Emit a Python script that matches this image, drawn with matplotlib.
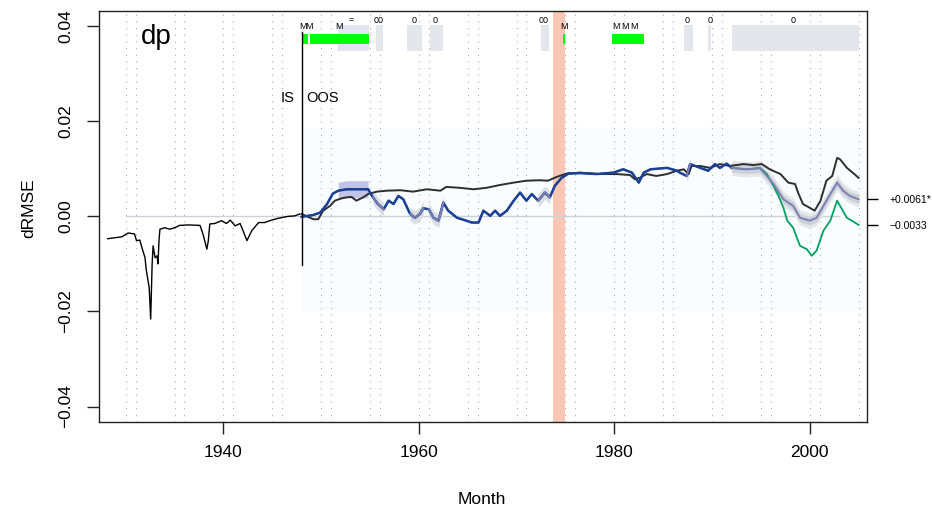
import numpy as np
import matplotlib
matplotlib.use("Agg")
import matplotlib.pyplot as plt

plt.rcParams["font.family"] = ["Liberation Sans", "DejaVu Sans"]

# ── data ──────────────────────────────────────────────────────────────────────
# in-sample dRMSE (black)
is_pts = [(1928.15, -0.0047), (1929.6, -0.0043), (1930.25, -0.0035), (1930.9, -0.0037),
          (1931.1, -0.0051), (1931.45, -0.0050), (1931.6, -0.0062), (1931.97, -0.0087),
          (1932.1, -0.0113), (1932.4, -0.0150), (1932.55, -0.0216), (1932.7, -0.0100),
          (1932.8, -0.0062), (1933.0, -0.0087), (1933.2, -0.0083), (1933.3, -0.0100),
          (1933.4, -0.0051), (1933.5, -0.0027), (1934.0, -0.0024), (1934.5, -0.0027),
          (1935.0, -0.0024), (1935.5, -0.0019), (1936.4, -0.0018), (1937.6, -0.0019),
          (1937.9, -0.0037), (1938.3, -0.0069), (1938.45, -0.0051), (1938.6, -0.0016),
          (1939.1, -0.0015), (1939.8, -0.0009), (1940.3, -0.0015), (1940.7, -0.0008),
          (1941.2, -0.0020), (1941.7, -0.0015), (1942.0, -0.0030), (1942.4, -0.0051),
          (1942.9, -0.0030), (1943.6, -0.0013), (1944.2, -0.0013), (1944.9, -0.0008),
          (1945.6, -0.0004), (1946.6, 0.0000), (1947.3, 0.0001), (1947.8, 0.0005)]

# out-of-sample, unconditional benchmark (black)
oos_black = [(1948.0, 0.0005), (1949.2, -0.0006), (1949.7, -0.0006), (1950.2, 0.0012),
             (1950.9, 0.0022), (1951.4, 0.0033), (1952.1, 0.0038), (1952.6, 0.0040),
             (1953.1, 0.0041), (1953.6, 0.0033), (1954.3, 0.0040), (1954.8, 0.0047),
             (1955.7, 0.0052), (1956.7, 0.0054), (1958.1, 0.0055), (1959.4, 0.0052),
             (1960.8, 0.0057), (1962.2, 0.0054), (1962.8, 0.0062), (1964.2, 0.0060),
             (1965.6, 0.0057), (1966.9, 0.0060), (1968.3, 0.0066), (1969.7, 0.0071),
             (1971.0, 0.0075), (1972.4, 0.0076), (1973.2, 0.0075), (1974.1, 0.0083),
             (1975.1, 0.0090), (1976.5, 0.0092), (1978.5, 0.0089), (1980.2, 0.0089),
             (1981.6, 0.0087), (1982.1, 0.0078), (1982.6, 0.0081), (1983.3, 0.0089),
             (1984.3, 0.0085), (1985.4, 0.0089), (1986.4, 0.0096), (1987.1, 0.0099),
             (1987.6, 0.0089), (1987.9, 0.0106), (1988.8, 0.0106), (1989.8, 0.0102),
             (1990.8, 0.0110), (1991.8, 0.0106), (1993.2, 0.0110), (1994.2, 0.0108),
             (1995.1, 0.0110), (1995.9, 0.0099), (1997.0, 0.0089), (1997.8, 0.0071),
             (1998.5, 0.0068), (1998.8, 0.0050), (1999.3, 0.0026), (2000.0, 0.0018),
             (2000.5, 0.0012), (2001.1, 0.0033), (2001.7, 0.0075), (2002.3, 0.0085),
             (2002.8, 0.0123), (2003.1, 0.0120), (2003.8, 0.0102), (2004.5, 0.0090),
             (2005.0, 0.0081)]

# out-of-sample, predictive regression (blue) up to 1992
oos_blue = [(1948.0, -0.0001), (1949.2, 0.0003), (1949.9, 0.0008), (1950.6, 0.0026),
            (1951.2, 0.0048), (1951.75, 0.0054), (1952.6, 0.0057), (1953.6, 0.0057),
            (1954.8, 0.0057), (1955.3, 0.0040), (1955.8, 0.0026), (1956.4, 0.0015),
            (1956.9, 0.0033), (1957.4, 0.0026), (1957.9, 0.0043), (1958.4, 0.0036),
            (1959.1, 0.0005), (1959.6, -0.0003), (1960.1, 0.0005), (1960.45, 0.0017),
            (1961.0, 0.0015), (1961.5, -0.0003), (1962.0, -0.0009), (1962.5, 0.0029),
            (1963.0, 0.0012), (1963.9, -0.0003), (1964.7, -0.0008), (1965.4, -0.0013),
            (1966.1, -0.0013), (1966.6, 0.0012), (1967.3, 0.0001), (1967.8, 0.0012),
            (1968.3, 0.0001), (1969.0, 0.0012), (1969.7, 0.0033), (1970.35, 0.0050),
            (1971.0, 0.0033), (1971.55, 0.0047), (1972.2, 0.0033), (1972.9, 0.0050),
            (1973.4, 0.0040), (1973.9, 0.0064), (1974.6, 0.0081), (1975.3, 0.0090),
            (1976.5, 0.0091), (1978.2, 0.0089), (1979.9, 0.0092), (1980.9, 0.0099),
            (1981.8, 0.0092), (1982.5, 0.0071), (1983.0, 0.0092), (1983.7, 0.0099),
            (1985.4, 0.0102), (1986.4, 0.0096), (1986.7, 0.0092), (1987.4, 0.0085),
            (1987.75, 0.0110), (1988.8, 0.0102), (1989.6, 0.0096), (1990.3, 0.0110),
            (1990.8, 0.0102), (1991.5, 0.0111), (1992.0, 0.0102)]

# tail after 1992: green (raw) and purple (adjusted) lines
oos_green = [(1992.0, 0.0102), (1993.55, 0.0099), (1994.9, 0.0102), (1995.6, 0.0089),
             (1996.3, 0.0064), (1996.8, 0.0043), (1997.3, 0.0018), (1997.7, -0.0009),
             (1998.3, -0.0024), (1999.0, -0.0062), (1999.7, -0.0069), (2000.2, -0.0083),
             (2000.7, -0.0072), (2001.4, -0.0030), (2002.1, -0.0009), (2002.8, 0.0033),
             (2003.1, 0.0022), (2003.8, -0.0003), (2004.3, -0.0009), (2005.0, -0.0018)]
oos_purple = [(1992.0, 0.0102), (1993.55, 0.0099), (1994.9, 0.0101), (1995.6, 0.0085),
              (1996.3, 0.0068), (1997.3, 0.0036), (1998.3, 0.0022), (1999.0, -0.0003),
              (2000.0, -0.0009), (2000.7, -0.0003), (2001.7, 0.0033), (2002.8, 0.0071),
              (2003.4, 0.0054), (2004.1, 0.0043), (2005.0, 0.0036)]

# top strip annotations
grey_windows = [(1955.6, 1956.3), (1958.8, 1960.3), (1961.1, 1962.5), (1972.5, 1973.3),
                (1987.1, 1988.0), (1989.6, 1989.9), (1992.05, 2005.0)]
lavender_window = (1951.7, 1954.9)
green_bars = [(1948.0, 1948.6), (1948.85, 1954.9), (1974.7, 1975.0),
              (1979.8, 1981.1), (1981.1, 1983.0)]
strip_labels = [(1948.15, "M"), (1948.75, "M"), (1951.8, "M"), (1953.1, "="),
                (1955.9, "00"), (1959.5, "0"), (1961.7, "0"), (1972.8, "00"),
                (1974.8, "M"), (1980.2, "M"), (1981.1, "M"), (1982.0, "M"),
                (1987.4, "0"), (1989.8, "0"), (1998.3, "0")]
oil_shock = (1973.75, 1974.95)
is_oos_split = 1948.0
right_labels = ["+0.0061*", "\u22120.0033"]

# ── figure ────────────────────────────────────────────────────────────────────
fig = plt.figure(figsize=(9.32, 5.17), dpi=100)
ax = fig.add_axes([0.1062, 0.1843, 0.8241, 0.7944])
XLIM = (1927.26, 2005.86)
YLIM = (-0.0432, 0.0432)

# faint OOS background
ax.fill_between([is_oos_split, XLIM[1]], -0.020, 0.0187, color="#FAFDFE", lw=0, zorder=0)

# dotted year markers
for b in range(1930, 2006, 5):
    for yr in (b, b + 1):
        if yr < XLIM[1]:
            ax.axvline(yr, color="#B0B0B0", lw=0.8, ls=(0, (1, 5)), zorder=1)

ax.axvspan(*oil_shock, color="#F9C7B4", lw=0, zorder=1)
ax.plot([1930, 2003], [0, 0], color="#C9D2DA", lw=1.0, zorder=2)

# top strip
def strip_box(x0, x1, y0, y1, color, z):
    ax.fill_between([x0, x1], y0, y1, color=color, lw=0, zorder=z)

for x0, x1 in grey_windows:
    strip_box(x0, x1, 0.0347, 0.0402, "#E3E6EA", 2)
strip_box(*lavender_window, 0.0347, 0.0402, "#E4E3F2", 2)
for x0, x1 in green_bars:
    strip_box(x0, x1, 0.0363, 0.0384, "#00FF00", 3)
for x, s in strip_labels:
    yy = 0.0399 if s == "M" else 0.0413
    ax.text(x, yy, s, fontsize=6.5, ha="center", va="center", zorder=4)

# IS/OOS split
ax.plot([is_oos_split, is_oos_split], [-0.0102, 0.0387], color="black", lw=1.0, zorder=6)
ax.text(is_oos_split - 0.7, 0.0250, "IS", fontsize=10.5, ha="right", va="center")
ax.text(is_oos_split + 0.5, 0.0250, "OOS", fontsize=10.5, ha="left", va="center")

# series
isx, isy = np.array(is_pts).T
bkx, bky = np.array(oos_black).T
blx, bly = np.array(oos_blue).T
gnx, gny = np.array(oos_green).T
pux, puy = np.array(oos_purple).T

ax.plot(isx, isy, color="black", lw=1.0, zorder=5)

# bands around the regression line
lx0, lx1 = lavender_window
m = (blx >= lx0 - 0.2) & (blx <= lx1 + 0.1)
ax.fill_between(blx[m], bly[m] - 0.0018, bly[m] + 0.0018, color="#B7BAE2", alpha=0.85, lw=0, zorder=3)
for x0, x1 in grey_windows[:-1]:
    m = (blx >= x0 - 0.35) & (blx <= x1 + 0.35)
    ax.fill_between(blx[m], bly[m] - 0.0014, bly[m] + 0.0014, color="#DADDE2", lw=0, zorder=3)
ax.fill_between(pux, puy - 0.0016, puy + 0.0016, color="#E4E6E9", lw=0, zorder=3)
ax.fill_between(pux, puy - 0.0009, puy + 0.0009, color="#CDD0D8", lw=0, zorder=3)

ax.plot(bkx, bky, color="#2E2E2E", lw=1.4, zorder=5)
ax.plot(np.r_[blx, gnx[1:]], np.r_[bly, gny[1:]], color="#00A060", lw=1.3, zorder=4)
ax.plot(blx, bly, color="#1E3F98", lw=1.8, zorder=5)
for x0, x1 in grey_windows[:-1]:
    m = (blx >= x0 - 0.35) & (blx <= x1 + 0.35)
    ax.plot(blx[m], bly[m], color="#7C80B4", lw=1.4, zorder=5)
ax.plot(pux, puy, color="#7C80B4", lw=1.4, zorder=5)

ax.text(1931.5, 0.0378, "dp", fontsize=20, ha="left", va="center")

# axes styling (R look)
ax.set_xlim(*XLIM)
ax.set_ylim(*YLIM)
ax.set_xticks([1940, 1960, 1980, 2000])
ax.set_yticks([-0.04, -0.02, 0.0, 0.02, 0.04])
ax.set_yticklabels(["\u22120.04", "\u22120.02", "0.00", "0.02", "0.04"])
ax.tick_params(axis="both", direction="out", length=8.6, width=1.0, labelsize=12.5, color="#222222")
ax.tick_params(axis="x", pad=8)
ax.tick_params(axis="y", pad=10, labelrotation=90)
for lab in ax.get_yticklabels():
    lab.set_va("center")
for sp in ax.spines.values():
    sp.set_linewidth(1.0)
    sp.set_color("#222222")

axr = ax.twinx()
axr.set_ylim(*YLIM)
axr.set_yticks([puy[-1], gny[-1]])
axr.set_yticklabels(right_labels)
axr.tick_params(axis="y", direction="out", length=8, width=1.0, labelsize=7.5, pad=8)
for sp in axr.spines.values():
    sp.set_visible(False)

fig.text(482 / 932, 1 - 500 / 517, "Month", fontsize=12.5, ha="center", va="center")
fig.text(28.5 / 932, 1 - 208 / 517, "dRMSE", fontsize=12.5, ha="center", va="center", rotation=90)

fig.savefig("out.png", dpi=100)
